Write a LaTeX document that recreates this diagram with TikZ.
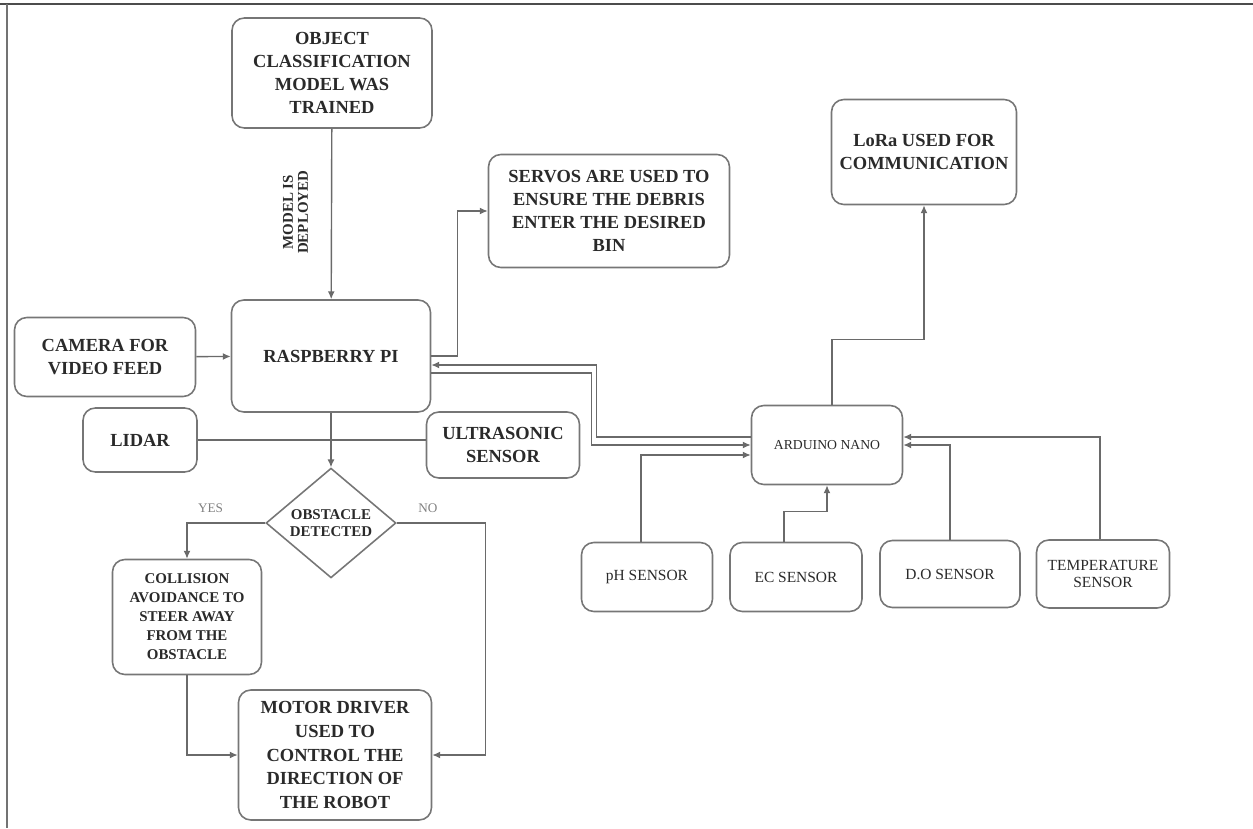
\documentclass[tikz,border=0pt]{standalone}
\usepackage{fontspec}
\setmainfont{Liberation Serif}
\usetikzlibrary{positioning}
\usetikzlibrary{shapes.geometric}
\usetikzlibrary{arrows.meta}
\definecolor{LineGray}{HTML}{6A6A6A}
\definecolor{BoxGray}{HTML}{767676}
\definecolor{TextGray}{HTML}{2A2A2A}
\tikzset{
  % rounded boxes of the flow chart
  block/.style={
    draw=BoxGray,line width=0.9pt,rounded corners=7pt,
    align=center,inner sep=2pt,text=TextGray,
    font=\fontsize{10.5}{13}\selectfont\bfseries,
  },
  smallblock/.style={block,font=\fontsize{8.5}{10.8}\selectfont\bfseries},
  sensorbox/.style={block,font=\fontsize{8.8}{10}\selectfont},
  nanobox/.style={block,font=\fontsize{7.8}{9.5}\selectfont},
  decision/.style={
    diamond,draw=BoxGray,line width=0.9pt,align=center,inner sep=0pt,
    text=TextGray,font=\fontsize{8.5}{10}\selectfont\bfseries,
  },
  % connectors with small filled heads
  conn/.style={draw=LineGray,line width=0.8pt,-{Latex[length=4.5pt,width=4pt]}},
  plain/.style={draw=LineGray,line width=0.8pt},
  answer/.style={text=gray,font=\fontsize{7.5}{8}\selectfont},
  edgelabel/.style={text=TextGray,align=center,font=\fontsize{8.5}{8.5}\selectfont\bfseries},
}
\begin{document}
\begin{tikzpicture}[x=0.02cm,y=-0.02cm]
  \useasboundingbox (0,0) rectangle (1253,828);
  % frame of the figure
  \draw[line width=1.2pt,black!70] (0,4) -- (1253,4);
  \draw[line width=1.2pt,black!55] (7,4) -- (7,828);

  % left part: vision and driving
  \node[block,minimum width=4cm,minimum height=2.2cm] (model) at (332,73)
    {OBJECT\\CLASSIFICATION\\MODEL WAS\\TRAINED};
  \node[block,minimum width=3.98cm,minimum height=2.24cm] (rpi) at (331,356)
    {RASPBERRY PI};
  \node[block,minimum width=3.62cm,minimum height=1.58cm] (cam) at (105,357)
    {CAMERA FOR\\VIDEO FEED};
  \node[block,minimum width=4.82cm,minimum height=2.26cm] (servo) at (609,211)
    {SERVOS ARE USED TO\\ENSURE THE DEBRIS\\ENTER THE DESIRED\\BIN};
  \node[block,minimum width=2.28cm,minimum height=1.28cm] (lidar) at (140,440)
    {LIDAR};
  \node[block,minimum width=3.06cm,minimum height=1.32cm] (ultra) at (503,445)
    {ULTRASONIC\\SENSOR};
  \node[decision,minimum width=2.6cm,minimum height=2.12cm] (obst) at (331,523)
    {OBSTACLE\\DETECTED};
  \node[smallblock,minimum width=2.98cm,minimum height=2.3cm] (avoid) at (187,617)
    {COLLISION\\AVOIDANCE TO\\STEER AWAY\\FROM THE\\OBSTACLE};
  \node[block,font=\fontsize{10.5}{13.6}\selectfont\bfseries,
    minimum width=3.86cm,minimum height=2.6cm] (motor) at (335,755)
    {MOTOR DRIVER\\USED TO\\CONTROL THE\\DIRECTION OF\\THE ROBOT};

  % right part: water sensing
  \node[block,minimum width=3.7cm,minimum height=2.1cm] (lora) at (924,152)
    {LoRa USED FOR\\COMMUNICATION};
  \node[nanobox,minimum width=3.02cm,minimum height=1.58cm] (nano) at (827,445)
    {ARDUINO NANO};
  \node[sensorbox,minimum width=2.62cm,minimum height=1.38cm] (ph) at (647,577)
    {pH SENSOR};
  \node[sensorbox,minimum width=2.64cm,minimum height=1.38cm] (ec) at (796,577)
    {EC SENSOR};
  \node[sensorbox,minimum width=2.8cm,minimum height=1.34cm] (dos) at (950,574)
    {D.O SENSOR};
  \node[sensorbox,minimum width=2.66cm,minimum height=1.36cm] (temp) at (1103,574)
    {TEMPERATURE\\SENSOR};

  % connectors
  \draw[conn] (model) -- node[edgelabel,pos=.49,xshift=-.72cm,rotate=90]
    {MODEL IS\\DEPLOYED} (rpi);
  \draw[conn] (cam) -- (rpi);
  \draw[conn] (rpi.east) -- ++(26,0) |- (servo.west);
  \draw[plain] (lidar.east) -- (lidar.east -| ultra.west);
  \draw[conn] (rpi) -- (obst);
  \draw[conn] (obst.west) -| node[answer,pos=.35,above=2pt] {YES} (avoid.north);
  \draw[conn] (obst.east) -- node[answer,pos=.35,above=2pt] {NO} ++(89,0) |- (motor.east);
  \draw[conn] (avoid.south) |- (motor.west);

  \draw[conn] ([yshift=.16cm]nano.west) -- ++(-154,0) |- ([yshift=-.18cm]rpi.east);
  \draw[conn] ([yshift=-.34cm]rpi.east) -- ++(160,0) |- (nano.west);
  \draw[conn] ([xshift=-.12cm]ph.north) |- ([yshift=-.2cm]nano.west);
  \draw[conn] ([xshift=-.24cm]ec.north) -- ++(0,-30) -| (nano.south);
  \draw[conn] (dos.north) |- (nano.east);
  \draw[conn] ([xshift=-.06cm]temp.north) |- ([yshift=.16cm]nano.east);
  \draw[conn] ([xshift=.1cm]nano.north) -- ++(0,-65) -| (lora.south);
\end{tikzpicture}
\end{document}
